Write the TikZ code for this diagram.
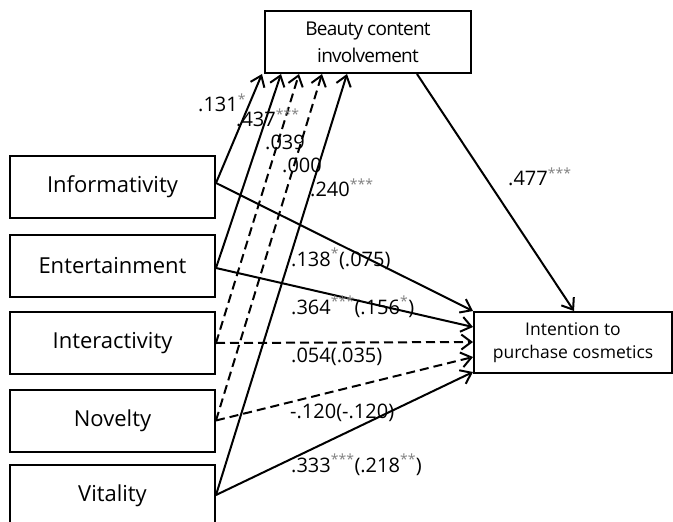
\documentclass[tikz,border=0pt]{standalone}
\usepackage{fontspec}
\setmainfont{Open Sans}
\usetikzlibrary{arrows.meta,calc}
\newcommand{\st}[1]{\textsuperscript{\color{gray}#1}}
\begin{document}
\begin{tikzpicture}[x=1pt,y=-1pt,
 box/.style={draw,line width=2pt,minimum width=205pt,minimum height=62pt,inner sep=0,font=\fontsize{22}{28}\selectfont},
 arr/.style={line width=2pt,-{Straight Barb[length=10pt,width=15pt,line width=2pt]}},
 dsh/.style={arr,dash pattern=on 9pt off 5pt},
 lbl/.style={anchor=west,inner sep=0,font=\fontsize{20}{24}\selectfont}]
\clip (0,0) rectangle (673,522);
% boxes
\node[box] (info) at (112.5,187) {Informativity};
\node[box] (ent)  at (112.5,266) {Entertainment};
\node[box] (inter) at (112.5,343) {Interactivity};
\node[box] (nov)  at (112.5,420.5) {Novelty};
\node[box] (vit)  at (112.5,496) {Vitality};
\node[box,minimum width=206pt,align=center,font=\fontsize{19}{27}\selectfont\addfontfeatures{LetterSpace=-4}] (bci) at (368,42) {Beauty content\\involvement};
\node[box,minimum width=198pt,minimum height=61pt,align=center,font=\fontsize{17.5}{23}\selectfont] (ipc) at (573,342.5) {Intention to\\purchase cosmetics};
% anchors
\coordinate (bsw) at (bci.south west);
\coordinate (isw) at (ipc.north west);
% to beauty
\draw[arr] ($(info.east)+(0,-4)$) -- ($(bsw)+(-2,0)$);
\draw[arr] ($(ent.east)+(0,2)$) -- ($(bsw)+(17,0)$);
\draw[dsh] (inter.east) -- ($(bsw)+(35,0)$);
\draw[dsh] (nov.east) -- ($(bsw)+(58,0)$);
\draw[arr] ($(vit.east)+(0,-1)$) -- ($(bsw)+(83,0)$);
% to intention
\draw[arr] ($(info.east)+(0,-4)$) -- ($(isw)+(0,0)$);
\draw[arr] ($(ent.east)+(0,2)$) -- ($(isw)+(0,16)$);
\draw[dsh] (inter.east) -- ($(isw)+(0,31)$);
\draw[dsh] (nov.east) -- ($(isw)+(0,46)$);
\draw[arr] ($(vit.east)+(0,-1)$) -- ($(isw)+(0,61)$);
% beauty to intention
\draw[arr] ($(bci.south west)+(153,0)$) -- ($(isw)+(101,0)$);
% labels
\node[lbl] (l1) at (198,103) {.131\st{*}};
\node[lbl] (l2) at (236,118) {.437\st{***}};
\node[lbl] (l3) at (265,142) {.039};
\node[lbl] (l4) at (282,165) {.000};
\node[lbl] (l5) at (310,188) {.240\st{***}};
\node[lbl] (l6) at (508,177) {.477\st{***}};
\node[lbl] (p1) at (291,259) {.138\st{*}(.075)};
\node[lbl] (p2) at (291,307) {.364\st{***}(.156\st{*})};
\node[lbl] (p3) at (291,357) {.054(.035)};
\node[lbl] (p4) at (290,413) {-.120(-.120)};
\node[lbl] (p5) at (291,465) {.333\st{***}(.218\st{**})};
\end{tikzpicture}
\end{document}
